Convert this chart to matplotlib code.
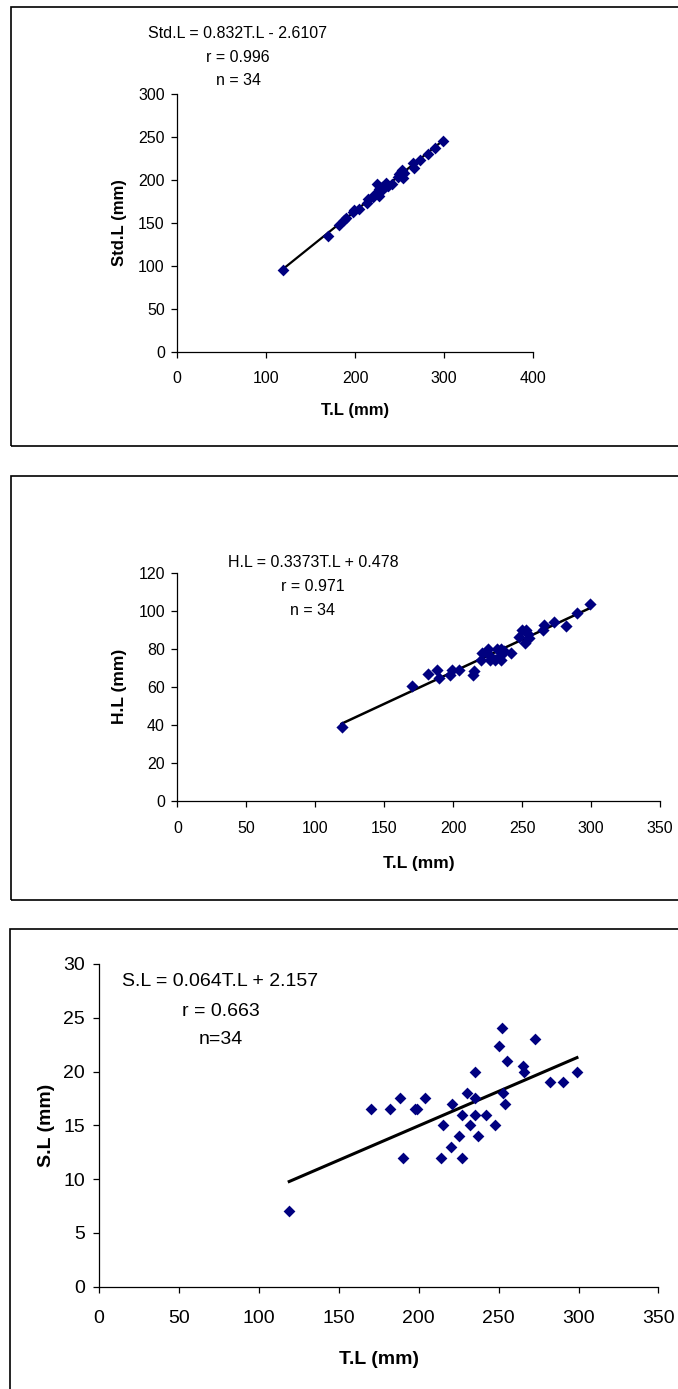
import matplotlib
matplotlib.use("Agg")
import matplotlib.pyplot as plt
import numpy as np
from matplotlib.patches import Rectangle

plt.rcParams['font.family'] = ['Liberation Sans', 'DejaVu Sans']

# total length (mm) of the 34 fish, shared by all three plots
tl = [119, 170, 182, 188, 190, 198, 199, 204, 214, 215, 220, 221, 225, 227, 227,
      230, 232, 235, 235, 235, 237, 242, 248, 250, 252, 253, 254, 255, 265, 266,
      273, 282, 290, 299]
std_l = [95, 135, 148, 153, 156, 163, 165, 166, 173, 178, 180, 183, 195, 182, 190,
         192, 190, 197, 193, 195, 193, 195, 204, 207, 210, 212, 203, 208, 220, 214,
         223, 231, 238, 246]
h_l = [38.7, 60.6, 66.5, 69, 64.5, 66, 69, 69, 66.2, 68.5, 74, 77.6, 80, 74, 76,
       74, 80, 74, 80, 77, 79, 78, 86.4, 90, 83, 90, 88, 85.5, 90, 92.5,
       94.3, 92, 99, 103.4]
s_l = [7, 16.5, 16.5, 17.5, 12, 16.5, 16.5, 17.5, 12, 15, 13, 17, 14, 12, 16,
       18, 15, 20, 17.5, 16, 14, 16, 15, 22.4, 24, 18, 17, 21, 20.5, 20,
       23, 19, 19, 20]

# regression equations (slope, intercept)
fit_std = (0.832, -2.6107)
fit_h = (0.3373, 0.478)
fit_s = (0.064, 2.157)

eq_std = ["Std.L = 0.832T.L - 2.6107", "r = 0.996", "n = 34"]
eq_h = ["H.L = 0.3373T.L + 0.478", "r = 0.971", "n = 34"]
eq_s = ["S.L = 0.064T.L + 2.157", "r = 0.663", "n=34"]

W, H = 678, 1389
fig = plt.figure(figsize=(W / 100, H / 100), dpi=100)


def px(x, y):
    return x / W, 1 - y / H


def add_box(top, bottom, left):
    r = Rectangle(px(left, bottom), (W + 20 - left) / W, (bottom - top) / H,
                  transform=fig.transFigure, fill=False, ec='black', lw=1.2,
                  clip_on=False)
    fig.patches.append(r)


def panel(rect, y, fit, xmax, xstep, ymax, ystep, ylabel, fs, lfs, ms, lw,
          xpad, ypad, labelpads):
    ax = fig.add_axes(rect)
    ax.scatter(tl, y, marker='D', s=ms ** 2, color='#000080', zorder=3,
               linewidths=0)
    xs = np.array([min(tl), max(tl)])
    ax.plot(xs, fit[0] * xs + fit[1], color='black', lw=lw, zorder=2)
    ax.set_xlim(0, xmax)
    ax.set_ylim(0, ymax)
    ax.set_xticks(np.arange(0, xmax + 1, xstep))
    ax.set_yticks(np.arange(0, ymax + 0.01, ystep))
    for s in ['top', 'right']:
        ax.spines[s].set_visible(False)
    for s in ['left', 'bottom']:
        ax.spines[s].set_linewidth(0.9)
    ax.tick_params(axis='x', direction='out', length=4, width=0.9,
                   labelsize=fs, pad=xpad)
    ax.tick_params(axis='y', direction='out', length=4, width=0.9,
                   labelsize=fs, pad=ypad)
    ax.set_xlabel("T.L (mm)", fontsize=lfs, fontweight='bold',
                  labelpad=labelpads[0])
    ax.set_ylabel(ylabel, fontsize=lfs, fontweight='bold',
                  labelpad=labelpads[1])
    return ax


# panel 1: standard length
add_box(6.7, 446, 11)
panel([0.2615, 0.7468, 0.5242, 0.1853], std_l, fit_std, 400, 100, 300, 50,
      "Std.L (mm)", 11.5, 12, 6.0, 1.6, 10, 5, (12, 8))
for t, yy in zip(eq_std, [34, 57.7, 80.7]):
    fig.text(*px(238, yy), t, ha='center', va='center', fontsize=11.5)

# panel 2: head length
add_box(475.7, 900, 11)
panel([0.2617, 0.4233, 0.7118, 0.1644], h_l, fit_h, 350, 50, 120, 20,
      "H.L (mm)", 11.5, 12.5, 6.2, 1.8, 10.5, 5, (14, 8))
for t, yy in zip(eq_h, [562.7, 586.7, 610.7]):
    fig.text(*px(313, yy), t, ha='center', va='center', fontsize=11.5)

# panel 3: snout length
add_box(929, 1400, 10.4)
panel([0.1460, 0.0737, 0.8252, 0.2323], s_l, fit_s, 350, 50, 30, 5,
      "S.L (mm)", 14, 14, 6.0, 2.2, 13, 6, (17, 6))
for t, yy in zip(eq_s, [981.7, 1011, 1040]):
    fig.text(*px(220.5, yy), t, ha='center', va='center', fontsize=14)

fig.savefig("out.png", dpi=100)
